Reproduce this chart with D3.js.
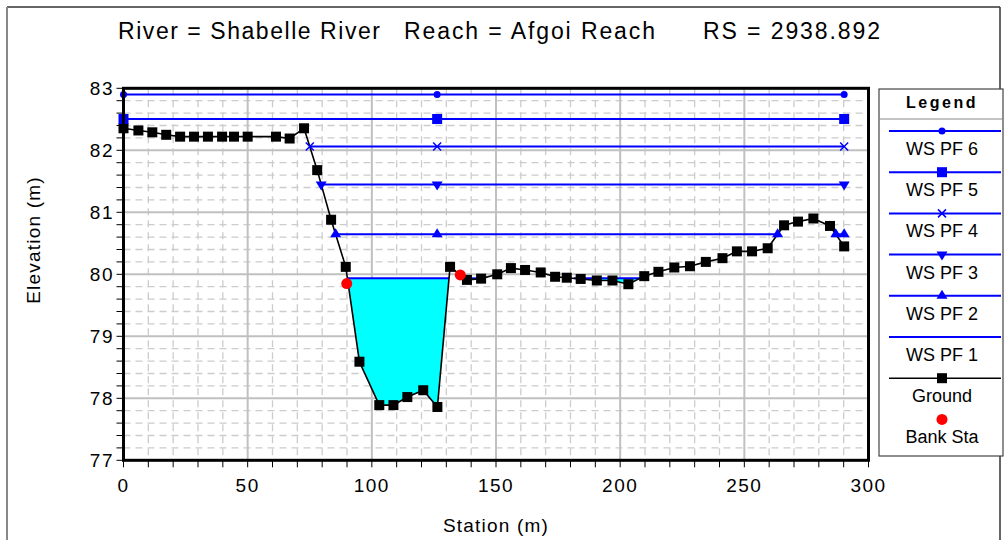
<!DOCTYPE html>
<html><head><meta charset="utf-8">
<script src="https://cdn.jsdelivr.net/npm/d3@7"></script>
<style>body{margin:0;background:#fff} svg{display:block;font-family:"Liberation Sans",Arial,sans-serif}</style>
</head><body><svg id="c" width="1006" height="540"></svg>
<script>
// ---------- data ----------
const titleParts = ["River = Shabelle River", "Reach = Afgoi Reach", "RS = 2938.892"];
const groundSta = [0, 6, 11.6, 17.2, 22.8, 28.4, 34, 39.7, 44.5, 50, 61.4, 66.9, 72.7, 78, 83.6, 89.5, 95, 103, 108.7, 114.3, 120.7, 126.4, 131.5, 138.3, 144, 150.5, 156, 161.7, 168, 173.8, 178.5, 184.1, 190.6, 196.9, 203.3, 209.7, 215.4, 221.8, 228.1, 234.5, 241.2, 247, 253.1, 259.4, 266, 271.6, 277.8, 284.5, 290.2];
const groundElev = [82.355, 82.32, 82.29, 82.25, 82.22, 82.22, 82.22, 82.22, 82.22, 82.22, 82.22, 82.19, 82.355, 81.68, 80.88, 80.12, 78.59, 77.89, 77.89, 78.02, 78.13, 77.86, 80.12, 79.91, 79.93, 80.0, 80.1, 80.07, 80.03, 79.96, 79.945, 79.925, 79.90, 79.90, 79.84, 79.97, 80.04, 80.11, 80.13, 80.20, 80.26, 80.37, 80.37, 80.42, 80.79, 80.85, 80.90, 80.78, 80.45];
const wsNames = ["WS PF 6", "WS PF 5", "WS PF 4", "WS PF 3", "WS PF 2", "WS PF 1"];
const wsElev = [82.90, 82.505, 82.06, 81.45, 80.645, 79.935];
const wsSymbols = ["circle", "square", "cross", "triDown", "triUp", "none"];
const bankSta = [89.9, 135.6];
const bankElev = [79.85, 79.99];
const wsMidMarkerSta = 126.3;
const xTicks = [0, 50, 100, 150, 200, 250, 300];
const yTicks = [77, 78, 79, 80, 81, 82, 83];
const xTitle = "Station (m)";
const yTitle = "Elevation (m)";

// ---------- layout ----------
const svg = d3.select("#c");
const x = d3.scaleLinear().domain([0, 300]).range([123.5, 868.5]);
const y = d3.scaleLinear().domain([77, 83]).range([460.3, 88.3]);
const blue = "#0000ff";

// outer frame
svg.append("line").attr("x1", 7).attr("y1", 7).attr("x2", 1000).attr("y2", 7).attr("stroke", "#333").attr("stroke-width", 1.5);
svg.append("line").attr("x1", 7).attr("y1", 7).attr("x2", 7).attr("y2", 540).attr("stroke", "#888").attr("stroke-width", 2);
svg.append("line").attr("x1", 1000).attr("y1", 7).attr("x2", 1000).attr("y2", 540).attr("stroke", "#333").attr("stroke-width", 1.5);

// title
const titleX = [118, 404, 703], titleW = [262, 251, 177];
titleParts.forEach((t, i) => {
  svg.append("text").attr("x", titleX[i]).attr("y", 39).attr("font-size", 23)
    .attr("textLength", titleW[i]).attr("lengthAdjust", "spacing").attr("fill", "#000").text(t);
});

// grid
const g = svg.append("g");
const minorX = d3.range(0, 301, 10).filter(v => v % 50 !== 0);
const minorY = d3.range(77, 83.001, 0.2).filter(v => Math.abs(v - Math.round(v)) > 0.01);
g.selectAll(".mx").data(minorX).join("line")
  .attr("x1", d => x(d)).attr("x2", d => x(d)).attr("y1", y(83)).attr("y2", y(77))
  .attr("stroke", "#cccccc").attr("stroke-width", 1.3).attr("stroke-dasharray", "7,5");
g.selectAll(".my").data(minorY).join("line")
  .attr("y1", d => y(d)).attr("y2", d => y(d)).attr("x1", x(0)).attr("x2", x(300))
  .attr("stroke", "#cccccc").attr("stroke-width", 1.3).attr("stroke-dasharray", "7,5");
g.selectAll(".Mx").data(xTicks).join("line")
  .attr("x1", d => x(d)).attr("x2", d => x(d)).attr("y1", y(83)).attr("y2", y(77))
  .attr("stroke", "#c0c0c0").attr("stroke-width", 2);
g.selectAll(".My").data(yTicks).join("line")
  .attr("y1", d => y(d)).attr("y2", d => y(d)).attr("x1", x(0)).attr("x2", x(300))
  .attr("stroke", "#c0c0c0").attr("stroke-width", 2);

// wet segments
function wetSegments(level) {
  const segs = []; let cur = null;
  for (let i = 0; i < groundSta.length; i++) {
    const wet = groundElev[i] < level;
    if (wet && !cur) {
      let s = groundSta[0];
      if (i > 0) { const t = (level - groundElev[i-1]) / (groundElev[i] - groundElev[i-1]); s = groundSta[i-1] + t * (groundSta[i] - groundSta[i-1]); }
      cur = { start: s, pts: [[s, level]] };
    }
    if (wet) cur.pts.push([groundSta[i], groundElev[i]]);
    if (!wet && cur) {
      const t = (level - groundElev[i-1]) / (groundElev[i] - groundElev[i-1]);
      const e = groundSta[i-1] + t * (groundSta[i] - groundSta[i-1]);
      cur.end = e; cur.pts.push([e, level]); segs.push(cur); cur = null;
    }
  }
  if (cur) { const n = groundSta.length - 1; cur.end = groundSta[n]; cur.pts.push([groundSta[n], level]); segs.push(cur); }
  return segs;
}

const line = d3.line().x(d => x(d[0])).y(d => y(d[1]));
const plot = svg.append("g");

// water fill for lowest profile
const pf1 = wetSegments(wsElev[5]);
plot.selectAll(".fill").data(pf1).join("path").attr("d", s => line(s.pts) + "Z").attr("fill", "#00ffff").attr("stroke", "none");

// symbols
function drawSymbol(sel, type, cx, cy, color) {
  if (type === "circle") sel.append("circle").attr("cx", cx).attr("cy", cy).attr("r", 3.5).attr("fill", color);
  else if (type === "square") sel.append("rect").attr("x", cx - 5).attr("y", cy - 5).attr("width", 10).attr("height", 10).attr("fill", color);
  else if (type === "cross") sel.append("path").attr("d", `M${cx-4},${cy-4}L${cx+4},${cy+4}M${cx-4},${cy+4}L${cx+4},${cy-4}`).attr("stroke", color).attr("stroke-width", 1.5);
  else if (type === "triDown") sel.append("path").attr("d", `M${cx-5.5},${cy-3}L${cx+5.5},${cy-3}L${cx},${cy+6}Z`).attr("fill", color);
  else if (type === "triUp") sel.append("path").attr("d", `M${cx-5.5},${cy+3}L${cx+5.5},${cy+3}L${cx},${cy-6}Z`).attr("fill", color);
}

// WS lines
const wsSegs = wsElev.map(l => wetSegments(l));
wsSegs.forEach((segs, k) => {
  segs.forEach(s => {
    plot.append("line").attr("x1", x(s.start)).attr("x2", x(s.end)).attr("y1", y(wsElev[k])).attr("y2", y(wsElev[k]))
      .attr("stroke", blue).attr("stroke-width", 2);
  });
});

// ground
plot.append("path").attr("d", line(groundSta.map((s, i) => [s, groundElev[i]]))).attr("fill", "none").attr("stroke", "#000").attr("stroke-width", 1.6);
groundSta.forEach((s, i) => drawSymbol(plot, "square", x(s), y(groundElev[i]), "#000"));

// WS markers
wsSegs.forEach((segs, k) => {
  if (wsSymbols[k] === "none") return;
  segs.forEach(s => {
    const ms = [s.start, s.end];
    if (wsMidMarkerSta > s.start && wsMidMarkerSta < s.end) ms.push(wsMidMarkerSta);
    ms.forEach(m => drawSymbol(plot, wsSymbols[k], x(m), y(wsElev[k]), blue));
  });
});

// bank stations
bankSta.forEach((s, i) => plot.append("circle").attr("cx", x(s)).attr("cy", y(bankElev[i])).attr("r", 5.5).attr("fill", "#ff0000"));

// plot frame
svg.append("rect").attr("x", x(0)).attr("y", y(83)).attr("width", x(300) - x(0)).attr("height", y(77) - y(83))
  .attr("fill", "none").attr("stroke", "#000").attr("stroke-width", 3);

// axis ticks
const ax = svg.append("g");
ax.selectAll(".tx").data(d3.range(0, 301, 10)).join("line")
  .attr("x1", d => x(d)).attr("x2", d => x(d)).attr("y1", y(77)).attr("y2", y(77) + 7).attr("stroke", "#000").attr("stroke-width", 1);
ax.selectAll(".ty").data(d3.range(77, 83.001, 0.2)).join("line")
  .attr("y1", d => y(d)).attr("y2", d => y(d)).attr("x1", x(0)).attr("x2", x(0) - 7).attr("stroke", "#000").attr("stroke-width", 1);
ax.selectAll(".lx").data(xTicks).join("text")
  .attr("x", d => x(d)).attr("y", 492).attr("text-anchor", "middle").attr("font-size", 19).attr("letter-spacing", 1.5).text(d => d);
ax.selectAll(".ly").data(yTicks).join("text")
  .attr("x", 114).attr("y", d => y(d) + 7).attr("text-anchor", "end").attr("font-size", 19).attr("letter-spacing", 1.5).text(d => d);
svg.append("text").attr("x", x(150)).attr("y", 532).attr("text-anchor", "middle").attr("font-size", 19).attr("letter-spacing", 1.2).text(xTitle);
svg.append("text").attr("transform", "translate(40,240) rotate(-90)").attr("text-anchor", "middle").attr("font-size", 19).attr("letter-spacing", 1.2).text(yTitle);

// legend
const lg = svg.append("g");
lg.append("rect").attr("x", 879).attr("y", 89).attr("width", 124).attr("height", 367).attr("fill", "#fff").attr("stroke", "#444").attr("stroke-width", 1.2);
lg.append("text").attr("x", 942).attr("y", 108).attr("text-anchor", "middle").attr("font-size", 16).attr("font-weight", "bold").attr("letter-spacing", 2.5).text("Legend");
lg.append("line").attr("x1", 879).attr("x2", 1003).attr("y1", 119).attr("y2", 119).attr("stroke", "#888").attr("stroke-width", 1);
const legItems = wsNames.map((n, k) => ({ name: n, color: blue, sym: wsSymbols[k], line: true }))
  .concat([{ name: "Ground", color: "#000", sym: "square", line: true }, { name: "Bank Sta", color: "#ff0000", sym: "dot", line: false }]);
legItems.forEach((it, i) => {
  const ly = 131 + i * 41.2;
  if (it.line) lg.append("line").attr("x1", 889).attr("x2", 1001).attr("y1", ly).attr("y2", ly).attr("stroke", it.color).attr("stroke-width", it.color === blue ? 2 : 1.6);
  if (it.sym === "dot") lg.append("circle").attr("cx", 942).attr("cy", ly).attr("r", 5.5).attr("fill", it.color);
  else if (it.sym !== "none") drawSymbol(lg, it.sym, 942, ly, it.color);
  lg.append("text").attr("x", 942).attr("y", ly + 24).attr("text-anchor", "middle").attr("font-size", 18).text(it.name);
});
</script>
</body></html>
